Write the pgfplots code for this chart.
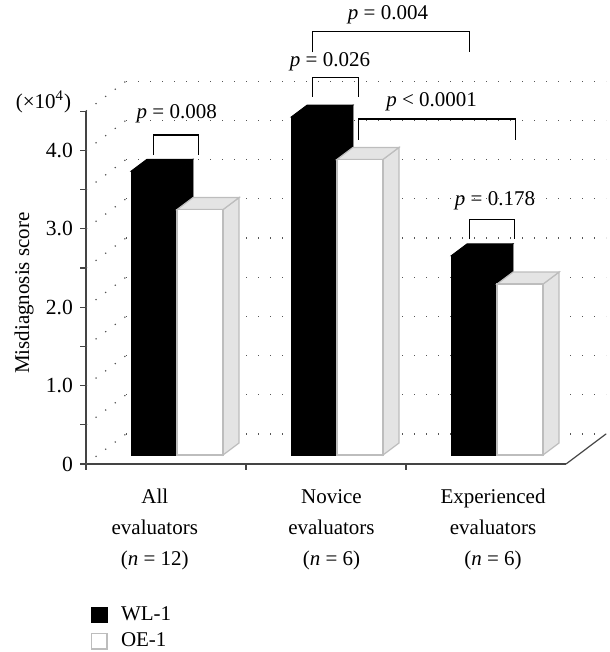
\documentclass[border=0pt]{standalone}
\usepackage{fontspec}
\setmainfont{Liberation Serif}
\usepackage{pgfplots}
\usepackage{pgfplotstable}
\pgfplotsset{compat=1.18}

\definecolor{sidegray}{HTML}{E4E4E4}
\definecolor{edgegray}{HTML}{BDBDBD}
\definecolor{axisgray}{HTML}{444444}
\definecolor{dotgray}{HTML}{555555}

% Misdiagnosis score (x10^4); x = bar centre (front plane)
\pgfplotstableread{
x      val
0.35   3.62
1.35   4.31
2.35   2.54
}\wlone
\pgfplotstableread{
x      val
0.6375 3.13
1.6375 3.77
2.6375 2.18
}\oeone

\begin{document}
\begin{tikzpicture}
\begin{axis}[
  x=80pt, y=39.2pt,
  xmin=0, xmax=3, ymin=0, ymax=4.5,
  clip=false,
  axis lines*=left,
  axis line style={axisgray, line width=0.6pt},
  tick style={axisgray, line width=0.6pt},
  tick align=outside,
  major tick length=3pt, minor tick length=3pt,
  xtick={0,1,2}, xticklabels={,,},
  ytick={0,1,2,3,4}, yticklabels={0,1.0,2.0,3.0,4.0},
  minor ytick={0.5,1.5,2.5,3.5,4.5},
  yticklabel style={font=\fontsize{10.8}{12}\selectfont},
  gridline/.style={dotgray, line width=0.6pt, dash pattern=on 0.6pt off 5.4pt, forget plot},
  barplane/.style={xshift=6pt, yshift=4.5pt, forget plot},
  bracket/.style={black, line width=0.55pt, forget plot},
  legend style={at={(axis description cs:0.01,-0.394)}, anchor=north west, draw=none, fill=none,
    font=\fontsize{10.5}{12}\selectfont, row sep=1.5pt, inner sep=0pt,
    nodes={inner sep=1.6pt}},
  legend cell align=left,
  legend image code/.code={\draw[#1] (0pt,-3.8pt) rectangle (7.6pt,3.8pt); \path[draw=none, fill=none] (0pt,0pt) -- (13pt,0pt);},
]
% ---- back wall gridlines
\addplot[gridline] coordinates {(0.25,0.383) (3.25,0.383)};
\addplot[gridline] coordinates {(0.25,0.883) (3.25,0.883)};
\addplot[gridline] coordinates {(0.25,1.383) (3.25,1.383)};
\addplot[gridline] coordinates {(0.25,1.883) (3.25,1.883)};
\addplot[gridline] coordinates {(0.25,2.383) (3.25,2.383)};
\addplot[gridline] coordinates {(0.25,2.883) (3.25,2.883)};
\addplot[gridline] coordinates {(0.25,3.383) (3.25,3.383)};
\addplot[gridline] coordinates {(0.25,3.883) (3.25,3.883)};
\addplot[gridline] coordinates {(0.25,4.383) (3.25,4.383)};
\addplot[gridline] coordinates {(0.25,4.883) (3.25,4.883)};
% ---- side wall gridlines
\addplot[gridline] coordinates {(0,0) (0.25,0.383)};
\addplot[gridline] coordinates {(0,0.5) (0.25,0.883)};
\addplot[gridline] coordinates {(0,1.0) (0.25,1.383)};
\addplot[gridline] coordinates {(0,1.5) (0.25,1.883)};
\addplot[gridline] coordinates {(0,2.0) (0.25,2.383)};
\addplot[gridline] coordinates {(0,2.5) (0.25,2.883)};
\addplot[gridline] coordinates {(0,3.0) (0.25,3.383)};
\addplot[gridline] coordinates {(0,3.5) (0.25,3.883)};
\addplot[gridline] coordinates {(0,4.0) (0.25,4.383)};
\addplot[gridline] coordinates {(0,4.5) (0.25,4.883)};
% ---- floor right edge
\addplot[axisgray, line width=0.6pt, forget plot] coordinates {(3,0) (3.25,0.383)};

% ---- WL-1 (black) bars: side + top, then front
\addplot[barplane, fill=black, draw=black] coordinates {(0.49375,0) (0.59375,0.153) (0.59375,3.773) (0.49375,3.62)} -- cycle;
\addplot[barplane, fill=black, draw=black] coordinates {(0.20625,3.62) (0.49375,3.62) (0.59375,3.773) (0.30625,3.773)} -- cycle;
\addplot[barplane, fill=black, draw=black] coordinates {(1.49375,0) (1.59375,0.153) (1.59375,4.463) (1.49375,4.31)} -- cycle;
\addplot[barplane, fill=black, draw=black] coordinates {(1.20625,4.31) (1.49375,4.31) (1.59375,4.463) (1.30625,4.463)} -- cycle;
\addplot[barplane, fill=black, draw=black] coordinates {(2.49375,0) (2.59375,0.153) (2.59375,2.693) (2.49375,2.54)} -- cycle;
\addplot[barplane, fill=black, draw=black] coordinates {(2.20625,2.54) (2.49375,2.54) (2.59375,2.693) (2.30625,2.693)} -- cycle;
\addplot[barplane, ybar, bar width=0.2875, bar shift=0pt, fill=black, draw=black] table[x=x, y=val] {\wlone};

% ---- OE-1 (white) bars
\addplot[barplane, fill=sidegray, draw=edgegray, line width=0.6pt] coordinates {(0.78125,0) (0.88125,0.153) (0.88125,3.283) (0.78125,3.13)} -- cycle;
\addplot[barplane, fill=sidegray, draw=edgegray, line width=0.6pt] coordinates {(0.49375,3.13) (0.78125,3.13) (0.88125,3.283) (0.59375,3.283)} -- cycle;
\addplot[barplane, fill=sidegray, draw=edgegray, line width=0.6pt] coordinates {(1.78125,0) (1.88125,0.153) (1.88125,3.923) (1.78125,3.77)} -- cycle;
\addplot[barplane, fill=sidegray, draw=edgegray, line width=0.6pt] coordinates {(1.49375,3.77) (1.78125,3.77) (1.88125,3.923) (1.59375,3.923)} -- cycle;
\addplot[barplane, fill=sidegray, draw=edgegray, line width=0.6pt] coordinates {(2.78125,0) (2.88125,0.153) (2.88125,2.333) (2.78125,2.18)} -- cycle;
\addplot[barplane, fill=sidegray, draw=edgegray, line width=0.6pt] coordinates {(2.49375,2.18) (2.78125,2.18) (2.88125,2.333) (2.59375,2.333)} -- cycle;
\addplot[barplane, ybar, bar width=0.2875, bar shift=0pt, fill=white, draw=edgegray, line width=0.6pt] table[x=x, y=val] {\oeone};

% ---- significance brackets
\addplot[bracket] coordinates {(0.421,3.941) (0.421,4.196) (0.705,4.196) (0.705,3.941)};
\addplot[bracket] coordinates {(1.417,4.685) (1.417,4.932) (1.702,4.932) (1.702,4.685)};
\addplot[bracket] coordinates {(1.414,5.251) (1.414,5.514) (2.394,5.514) (2.394,5.251)};
\addplot[bracket] coordinates {(1.704,4.133) (1.704,4.40) (2.683,4.40) (2.683,4.133)};
\addplot[bracket] coordinates {(2.396,2.866) (2.396,3.121) (2.679,3.121) (2.679,2.866)};

\begin{scope}[every node/.style={font=\fontsize{10.5}{12}\selectfont, inner sep=0pt}]
\node at (axis cs:0.567,4.464) {\textit{p} = 0.008};
\node at (axis cs:1.525,5.128) {\textit{p} = 0.026};
\node at (axis cs:1.8875,5.727) {\textit{p} = 0.004};
\node at (axis cs:2.16,4.621) {\textit{p} < 0.0001};
\node at (axis cs:2.556,3.355) {\textit{p} = 0.178};
\node at (axis cs:-0.266,4.62) {(×10\textsuperscript{4})};
\node[rotate=90] at (axis cs:-0.3875,2.18) {Misdiagnosis score};
\end{scope}
\begin{scope}[every node/.style={font=\fontsize{10.5}{15.5}\selectfont, inner sep=0pt, anchor=north, align=center}]
\node at (axis cs:0.43,-0.319) {All\\evaluators\\(\textit{n} = 12)};
\node at (axis cs:1.534,-0.319) {Novice\\evaluators\\(\textit{n} = 6)};
\node at (axis cs:2.544,-0.319) {Experienced\\evaluators\\(\textit{n} = 6)};
\end{scope}

\addlegendimage{fill=black, draw=black}
\addlegendentry{WL-1}
\addlegendimage{fill=white, draw=edgegray, line width=0.6pt}
\addlegendentry{OE-1}

\coordinate (bbsw) at (axis cs:-0.5375,-2.398);
\coordinate (bbne) at (axis cs:3.269,5.918);
\end{axis}
\pgfresetboundingbox
\useasboundingbox (bbsw) rectangle (bbne);
\end{tikzpicture}
\end{document}
